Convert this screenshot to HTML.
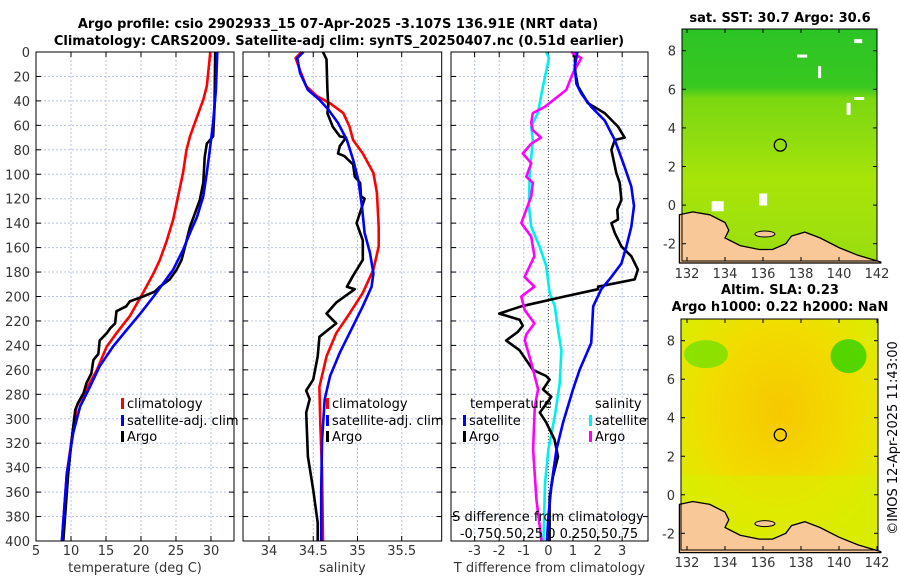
<!DOCTYPE html>
<html><head><meta charset="utf-8">
<style>
html,body{margin:0;padding:0;background:#fff;}
svg{display:block;font-family:"DejaVu Sans","Liberation Sans",sans-serif;}
.tk{font-size:13px;fill:#333;}
.ttl{font-size:13px;font-weight:bold;fill:#000;}
.lg{font-size:13px;fill:#000;}
</style></head>
<body>
<svg id="fig" width="900" height="580" viewBox="0 0 900 580">
<defs>
<linearGradient id="sstGrad" x1="0" y1="0" x2="0" y2="1">
<stop offset="0" stop-color="#2cc426"/><stop offset="0.25" stop-color="#38c820"/>
<stop offset="0.30" stop-color="#7cd810"/><stop offset="0.45" stop-color="#8cdc10"/>
<stop offset="0.65" stop-color="#a8e408"/><stop offset="1" stop-color="#9ade10"/>
</linearGradient>
<radialGradient id="slaGrad" cx="0.5" cy="0.4" r="0.6">
<stop offset="0" stop-color="#f6c800"/><stop offset="0.6" stop-color="#f2dc00"/><stop offset="1" stop-color="#dcec00"/>
</radialGradient>
</defs>
<text class="ttl" x="338" y="28" text-anchor="middle">Argo profile: csio 2902933_15 07-Apr-2025 -3.107S 136.91E (NRT data)</text>
<text class="ttl" x="339" y="45" text-anchor="middle">Climatology: CARS2009. Satellite-adj clim: synTS_20250407.nc (0.51d earlier)</text>
<g id="panels"></g>
<g id="maps"></g>
<text class="lg" transform="translate(897,438) rotate(-90)" text-anchor="middle">©IMOS 12-Apr-2025 11:43:00</text>
</svg>
<script>
// ---- data (depth in m, values in physical units) ----
const depthTicks = [0,20,40,60,80,100,120,140,160,180,200,220,240,260,280,300,320,340,360,380,400];
const tTicks = [5,10,15,20,25,30];
const sTicks = [34,34.5,35,35.5];
const dTicks = [-3,-2,-1,0,1,2,3];

const tClimD = [0,17,28,39,50,61,69,80,99,118,137,154,170,181,197,216,230,241,260,276,290,317,345,400];
const tClimV = [29.9,29.6,29.4,28.9,28.2,27.5,27.0,26.5,26.0,25.3,24.6,23.7,22.7,21.8,20.3,18.4,16.5,15.1,13.7,12.2,10.8,10.1,9.4,8.7];
const tSatD = [0,31,58,77,99,118,135,148,162,178,189,200,214,227,241,257,274,290,312,345,400];
const tSatV = [30.9,30.7,30.3,29.9,29.4,28.9,28.0,27.0,26.0,24.6,23.2,21.8,19.9,18.0,16.0,14.1,12.7,11.3,10.3,9.4,8.7];
const tArgoD = [0,46,69,75,86,107,121,132,143,159,170,178,186,192,196,200,204,208,212,222,226,230,236,247,252,263,271,279,287,293,317,345,400];
const tArgoV = [30.6,30.5,30.3,29.4,29.1,28.9,28.4,27.7,27.0,26.3,25.8,25.1,24.1,22.7,22.0,20.3,18.4,17.9,16.5,16.3,15.6,15.1,14.1,13.9,13.2,12.9,12.2,11.8,11.0,10.6,10.1,9.6,8.9];

const sClimD = [0,5,15,28,36,42,50,61,72,83,99,115,143,159,178,197,214,230,249,274,304,345,400];
const sClimV = [34.37,34.30,34.35,34.42,34.54,34.69,34.84,34.91,34.95,35.06,35.18,35.22,35.24,35.24,35.18,35.06,34.91,34.76,34.65,34.57,34.58,34.60,34.61];
const sSatD = [0,5,17,31,39,47,58,72,88,105,126,148,164,181,192,208,230,246,265,284,317,358,400];
const sSatV = [34.39,34.32,34.35,34.44,34.57,34.67,34.78,34.88,34.95,35.01,35.05,35.08,35.14,35.18,35.16,35.06,34.91,34.80,34.69,34.63,34.60,34.59,34.59];
const sArgoD = [0,6,31,44,50,61,69,70,77,83,85,92,102,107,118,120,140,154,170,183,192,194,205,214,222,233,249,268,277,284,295,331,358,385,400];
const sArgoV = [34.61,34.65,34.66,34.67,34.66,34.72,34.80,34.87,34.80,34.78,34.85,34.95,34.97,35.03,35.04,35.08,34.99,35.06,35.06,34.95,34.88,34.97,34.76,34.65,34.76,34.57,34.55,34.50,34.42,34.46,34.42,34.44,34.50,34.55,34.55];

const dtSatD = [0,12,26,34,45,56,72,94,110,126,143,159,173,184,194,208,238,260,276,303,325,353,380,400];
const dtSatV = [1.18,1.07,1.14,1.34,1.75,2.29,2.70,3.10,3.37,3.48,3.37,3.17,2.97,2.56,2.15,1.82,1.74,1.27,1.0,0.6,0.33,0.13,0.0,-0.06];
const dtArgoD = [0,17,28,42,50,61,70,72,80,99,107,121,129,137,140,148,159,167,178,186,192,194,200,208,214,219,224,229,236,244,260,265,268,276,282,295,303,317,331,347,364,400];
const dtArgoV = [1.07,1.1,1.2,1.61,2.29,2.83,3.10,2.70,2.56,2.76,2.90,2.97,2.80,2.83,2.56,2.70,2.97,3.37,3.64,3.51,2.02,2.02,0.66,-1.10,-2.0,-1.17,-1.04,-1.25,-1.72,-1.17,-0.63,-0.09,0.05,-0.22,0.12,-0.35,-0.09,0.25,0.39,0.19,0.05,0.05];
const dsSatD = [0,5,28,50,61,72,99,126,143,159,175,197,208,227,244,271,298,325,353,400];
const dsSatV = [-0.022,0.005,-0.055,-0.108,-0.175,-0.158,-0.19,-0.198,-0.175,-0.09,-0.022,0.012,0.065,0.098,0.132,0.115,0.065,0.0,-0.035,-0.05];
const dsArgoD = [0,5,17,31,45,50,58,64,70,75,83,91,102,107,118,140,151,167,184,192,200,211,222,231,236,255,276,290,325,366,400];
const dsArgoV = [0.232,0.335,0.25,0.182,-0.04,-0.158,-0.175,-0.158,-0.075,-0.175,-0.26,-0.175,-0.225,-0.158,-0.175,-0.275,-0.175,-0.142,-0.242,-0.142,-0.275,-0.242,-0.142,-0.225,-0.24,-0.172,-0.105,-0.138,-0.155,-0.122,-0.07];

const lonTicks = [132,134,136,138,140,142];
const latTicks = [-2,0,2,4,6,8];
const argoLon = 136.91, argoLat = 3.107;
const landLon = [131.6,132.3,133.2,134.0,134.2,134.0,134.8,135.8,136.5,137.2,137.5,138.2,139.0,140.0,141.0,142.2,142.2,131.6];
const landLat = [-0.5,-0.35,-0.5,-0.9,-1.3,-1.7,-2.1,-2.3,-2.3,-2.0,-1.6,-1.4,-1.7,-2.2,-2.6,-2.95,-3.0,-3.0];

const NS='http://www.w3.org/2000/svg';
const fig=document.getElementById('fig');
function el(tag,attrs,parent){const e=document.createElementNS(NS,tag);for(const k in attrs)e.setAttribute(k,attrs[k]);(parent||fig).appendChild(e);return e;}
const Y0=52,Y1=541;
function yD(d){return Y0+(d/400)*(Y1-Y0);}

const panels=[
 {name:'temperature',x0:36,x1:234,min:5,max:33.29,ticks:tTicks,label:'temperature (deg C)'},
 {name:'salinity',x0:243,x1:441.7,min:33.706,max:35.952,ticks:sTicks,label:'salinity'},
 {name:'difference',x0:451,x1:648,min:-3.96,max:4.05,ticks:dTicks,label:'T difference from climatology'}
];
function xf(p,v){return p.x0+(v-p.min)/(p.max-p.min)*(p.x1-p.x0);}
const pg=document.getElementById('panels');
panels.forEach((p,i)=>{
  const g=el('g',{},pg);
  
  
  depthTicks.forEach(d=>{
    const l=el('line',{x1:p.x0,x2:p.x1,y1:yD(d),y2:yD(d),stroke:'#b8c4e8','stroke-width':1,'stroke-dasharray':'2,2'},g);
    
    
    el('line',{x1:p.x0,x2:p.x0+5,y1:yD(d),y2:yD(d),stroke:'#000'},g);
    el('line',{x1:p.x1-5,x2:p.x1,y1:yD(d),y2:yD(d),stroke:'#000'},g);
    if(i===0){const t=el('text',{x:30,y:yD(d)+5,'text-anchor':'end',class:'tk'},g);t.textContent=d;
      
      }
  });
  p.ticks.forEach(v=>{
    const x=xf(p,v);
    el('line',{x1:x,x2:x,y1:Y0,y2:Y1,stroke:(i===2&&v===0)?'#444':'#b8c4e8','stroke-width':1,'stroke-dasharray':(i===2&&v===0)?'1,2':'2,2'},g);
    el('line',{x1:x,x2:x,y1:Y1-5,y2:Y1,stroke:'#000'},g);
    el('line',{x1:x,x2:x,y1:Y0,y2:Y0+5,stroke:'#000'},g);
    const t=el('text',{x:x,y:555,'text-anchor':'middle',class:'tk'},g);t.textContent=v;
    
    
  });
  const at=el('text',{x:(p.x0+p.x1)/2,y:572,'text-anchor':'middle',class:'tk'},g);at.textContent=p.label;
  
  
  p.g=g;
});
function line(p,ds,vs,color,name,scale){
  const pts=ds.map((d,k)=>xf(p,vs[k]*(scale||1)).toFixed(1)+','+yD(d).toFixed(1)).join(' ');
  const l=el('polyline',{points:pts,fill:'none',stroke:color,'stroke-width':2.6,'stroke-linejoin':'round'},p.g);
  
  
}
line(panels[0],tClimD,tClimV,'#ff0000','temp-climatology-line');
line(panels[0],tArgoD,tArgoV,'#000000','temp-argo-line');
line(panels[0],tSatD,tSatV,'#0000ff','temp-satellite-line');
line(panels[1],sClimD,sClimV,'#ff0000','sal-climatology-line');
line(panels[1],sArgoD,sArgoV,'#000000','sal-argo-line');
line(panels[1],sSatD,sSatV,'#0000ff','sal-satellite-line');
line(panels[2],dsSatD,dsSatV,'#00f0f0','dsal-satellite-line',4);
line(panels[2],dtArgoD,dtArgoV,'#000000','dtemp-argo-line');
line(panels[2],dsArgoD,dsArgoV,'#ff00ff','dsal-argo-line',4);
line(panels[2],dtSatD,dtSatV,'#0000ff','dtemp-satellite-line');
panels.forEach(p=>{el('rect',{x:p.x0,y:Y0,width:p.x1-p.x0,height:Y1-Y0,fill:'none',stroke:'#000','stroke-width':1},p.g);});

function legend(g,x,y,color,text){
  el('rect',{x:x,y:y-10,width:3,height:11,fill:color},g);
  const t=el('text',{x:x+6,y:y,class:'lg'},g);t.textContent=text;
  
  
}
[0,1].forEach(i=>{const g=panels[i].g,x=i===0?121:326;
  legend(g,x,408,'#ff0000','climatology');legend(g,x,425,'#0000ff','satellite-adj. clim');legend(g,x,441,'#000','Argo');});
{const g=panels[2].g;
 const t1=el('text',{x:470,y:408,class:'lg'},g);t1.textContent='temperature';
 const t2=el('text',{x:595,y:408,class:'lg'},g);t2.textContent='salinity';
 legend(g,463,425,'#0000ff','satellite');legend(g,463,441,'#000','Argo');
 legend(g,589,425,'#00f0f0','satellite');legend(g,589,441,'#ff00ff','Argo');
 const s1=el('text',{x:548,y:521,'text-anchor':'middle',class:'lg'},g);s1.textContent='S difference from climatology';
 const s2=el('text',{x:549,y:538,'text-anchor':'middle',class:'lg'},g);s2.textContent='-0.750.50.25 0  0.250.50.75';
}

// ---- maps ----
const maps=[
 {name:'sst-map',x0:682,x1:877,y0:29,y1:261,fill:'url(#sstGrad)',t1:'sat. SST: 30.7 Argo: 30.6',t1y:22,t2:null},
 {name:'sla-map',x0:681,x1:878,y0:319,y1:550,fill:'url(#slaGrad)',t1:'Altim. SLA: 0.23',t1y:294,t2:'Argo h1000: 0.22 h2000: NaN',t2y:311}
];
const mg=document.getElementById('maps');
maps.forEach((m,i)=>{
  const g=el('g',{},mg);
  
  
  const lonX=v=>687+(v-132)*19;
  const latY=v=>(i===0?243.7:533.3)-(v+2)*(i===0?19.3:19.26);
  el('rect',{x:m.x0,y:m.y0,width:m.x1-m.x0,height:m.y1-m.y0,fill:m.fill},g);
  if(i===1){
    el('ellipse',{cx:lonX(133),cy:latY(7.3),rx:22,ry:14,fill:'#7ce000',opacity:0.85},g);
    el('ellipse',{cx:lonX(140.5),cy:latY(7.2),rx:18,ry:17,fill:'#44d400',opacity:0.9},g);
    el('rect',{x:m.x0,y:latY(1.0),width:m.x1-m.x0,height:latY(-3)-latY(1),fill:'#d8ee00',opacity:0.6},g);
  } else {
    [[137.8,7.8,10,3],[138.9,7.2,3,12],[140.4,5.3,4,12],[140.8,5.6,10,3],[133.3,0.2,12,10],[135.8,0.6,8,12],[140.8,8.6,8,4]].forEach(w=>{
      el('rect',{x:lonX(w[0]),y:latY(w[1]),width:w[2],height:w[3],fill:'#fff'},g);});
  }
  const pts=landLon.map((v,k)=>lonX(v).toFixed(1)+','+latY(landLat[k]).toFixed(1)).join(' ');
  const land=el('polygon',{points:pts,fill:'#f8c898',stroke:'#000','stroke-width':1.3},g);
  
  
  el('ellipse',{cx:lonX(136.1),cy:latY(-1.5),rx:10,ry:3,fill:'#f8c898',stroke:'#000'},g);
  const c=el('circle',{cx:lonX(argoLon),cy:latY(argoLat),r:6,fill:'none',stroke:'#000','stroke-width':1.3},g);
  
  
  el('rect',{x:m.x0,y:m.y0,width:m.x1-m.x0,height:m.y1-m.y0,fill:'none',stroke:'#000'},g);
  latTicks.forEach(v=>{const y=latY(v);
    el('line',{x1:m.x0,x2:m.x0+4,y1:y,y2:y,stroke:'#000'},g);el('line',{x1:m.x1-4,x2:m.x1,y1:y,y2:y,stroke:'#000'},g);
    const t=el('text',{x:m.x0-6,y:y+5,'text-anchor':'end',class:'tk'},g);t.textContent=v;
    
    });
  lonTicks.forEach(v=>{const x=lonX(v);
    el('line',{x1:x,x2:x,y1:m.y1-4,y2:m.y1,stroke:'#000'},g);el('line',{x1:x,x2:x,y1:m.y0,y2:m.y0+4,stroke:'#000'},g);
    const t=el('text',{x:x,y:m.y1+17,'text-anchor':'middle',class:'tk'},g);t.textContent=v;
    
    });
  const t1=el('text',{x:780,y:m.t1y,'text-anchor':'middle',class:'ttl'},g);t1.textContent=m.t1;
  
  
  if(m.t2){const t2=el('text',{x:780,y:m.t2y,'text-anchor':'middle',class:'ttl'},g);t2.textContent=m.t2;
    
    }
});
</script>
</body></html>
